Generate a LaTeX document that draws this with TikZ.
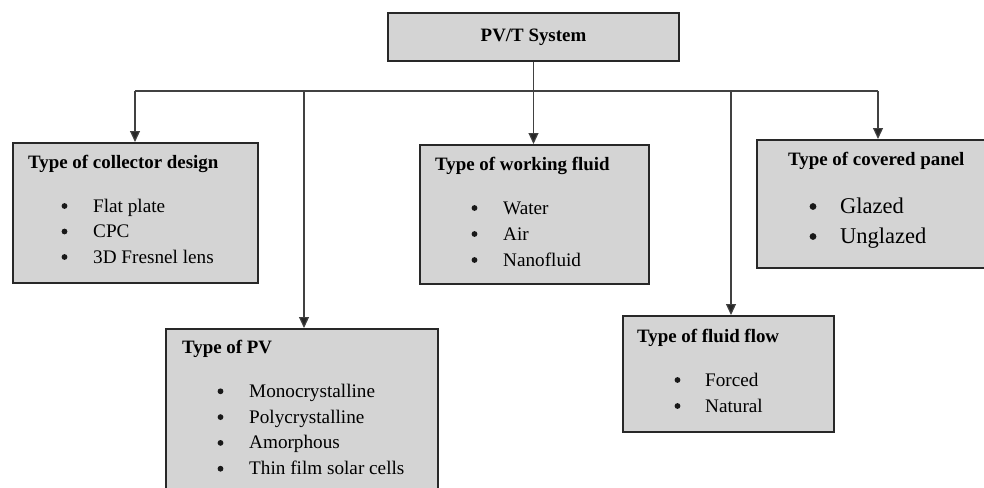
\documentclass[tikz,border=0pt]{standalone}
\usepackage{fontspec}
\setmainfont{Liberation Serif}
\usetikzlibrary{arrows.meta}
\definecolor{boxgray}{RGB}{212,212,212}
\definecolor{edgegray}{RGB}{40,40,40}
\definecolor{linegray}{RGB}{65,65,65}
\tikzset{
  box/.style={draw=edgegray, line width=2pt, fill=boxgray, anchor=north west, inner sep=0pt},
  head/.style={anchor=base west, inner sep=0pt, font=\fontsize{18.9}{22}\selectfont\bfseries},
  item/.style={anchor=base west, inner sep=0pt, font=\fontsize{19.2}{22}\selectfont},
  bigitem/.style={item, font=\fontsize{22.5}{26}\selectfont},
  dot/.style={fill=black!90},
  arr/.style={draw=linegray, line width=1.2pt, -{Triangle[length=11pt,width=10pt,fill=black!85]}},
  bus/.style={draw=linegray, line width=1.2pt},
}
\begin{document}
\begin{tikzpicture}[x=1pt,y=-1pt]
    \useasboundingbox (0,0) rectangle (984,487);
    \node[box, minimum width=291, minimum height=48] (sys) at (387,12) {};
    \node[head, anchor=center] (sys text) at (sys.center) {PV/T System};
    \begin{scope}[shift={(12,142)}]
        \node[box, minimum width=245, minimum height=140] (collector) at (0,0) {};
        \path (16,26) node[head] (collector title) {Type of collector design};
        \foreach \t [count=\i] in {Flat plate, CPC, 3D Fresnel lens} {
            \fill[dot] (52.5,38.5+25.5*\i) circle (2.9pt);
            \path (81,44.5+25.5*\i) node[item] (collector \i) {\t};
        }
    \end{scope}
    \begin{scope}[shift={(165,328)}]
        \node[box, minimum width=272, minimum height=180] (pv) at (0,0) {};
        \path (17,25) node[head] (pv title) {Type of PV};
        \foreach \t [count=\i] in {Monocrystalline, Polycrystalline, Amorphous, Thin film solar cells} {
            \fill[dot] (55.5,37.5+25.8*\i) circle (2.9pt);
            \path (84,43.5+25.8*\i) node[item] (pv \i) {\t};
        }
    \end{scope}
    \begin{scope}[shift={(419,144)}]
        \node[box, minimum width=229, minimum height=139] (fluid) at (0,0) {};
        \path (16,26) node[head] (fluid title) {Type of working fluid};
        \foreach \t [count=\i] in {Water, Air, Nanofluid} {
            \fill[dot] (55.5,38+26*\i) circle (2.9pt);
            \path (84,44+26*\i) node[item] (fluid \i) {\t};
        }
    \end{scope}
    \begin{scope}[shift={(622,315)}]
        \node[box, minimum width=211, minimum height=116] (flow) at (0,0) {};
        \path (15,27) node[head] (flow title) {Type of fluid flow};
        \foreach \t [count=\i] in {Forced, Natural} {
            \fill[dot] (55.5,39+26*\i) circle (2.9pt);
            \path (83,45+26*\i) node[item] (flow \i) {\t};
        }
    \end{scope}
    \begin{scope}[shift={(756,139)}]
        \node[box, minimum width=240, minimum height=128] (panel) at (0,0) {};
        \path (32,26) node[head] (panel title) {Type of covered panel};
        \foreach \t [count=\i] in {Glazed, Unglazed} {
            \fill[dot] (57,37.5+30*\i) circle (3.4pt);
            \path (84,44+30*\i) node[bigitem] (panel \i) {\t};
        }
    \end{scope}
    % connectors
    \coordinate (bus west) at (135,91);
    \coordinate (bus east) at (878,91);
    \coordinate (pv drop) at (304,91);
    \coordinate (flow drop) at (731,91);
    \draw[bus] (bus west) -- (bus east);
    \draw[arr] (sys.south) -- (sys.south |- fluid.north);
    \draw[arr] (bus west) -- (bus west |- collector.north);
    \draw[arr] (pv drop) -- (pv drop |- pv.north);
    \draw[arr] (flow drop) -- (flow drop |- flow.north);
    \draw[arr] (bus east) -- (bus east |- panel.north);
\end{tikzpicture}
\end{document}
